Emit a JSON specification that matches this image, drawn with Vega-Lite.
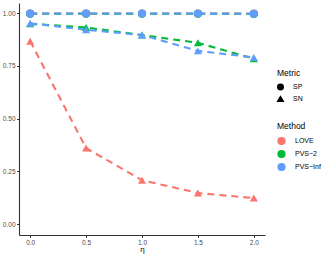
{
  "$schema": "https://vega.github.io/schema/vega-lite/v6.json",
  "width": 246,
  "height": 232,
  "autosize": {"type": "none"},
  "padding": {"left": 19, "top": 3, "right": 67, "bottom": 23},
  "background": "white",
  "config": {
    "view": {"stroke": null},
    "font": "Liberation Sans",
    "axis": {"grid": false, "domainColor": "#333333", "domainWidth": 1.1, "tickColor": "#333333", "tickSize": 2.5, "labelColor": "#4D4D4D", "labelFontSize": 6.5, "labelPadding": 1.5, "titleFontWeight": "normal", "titleFontSize": 8, "titleColor": "black"},
    "legend": {"titleFontWeight": "normal", "titleFontSize": 8.5, "titleColor": "black", "titlePadding": 6, "labelFontSize": 7, "labelColor": "black", "labelOffset": 9, "symbolSize": 40, "rowPadding": 2}
  },
  "data": {
    "values": [
      {"eta": 0.0, "Method": "LOVE", "Metric": "SP", "value": 0.998},
      {"eta": 0.5, "Method": "LOVE", "Metric": "SP", "value": 0.998},
      {"eta": 1.0, "Method": "LOVE", "Metric": "SP", "value": 0.998},
      {"eta": 1.5, "Method": "LOVE", "Metric": "SP", "value": 0.998},
      {"eta": 2.0, "Method": "LOVE", "Metric": "SP", "value": 0.998},
      {"eta": 0.0, "Method": "PVS\u22122", "Metric": "SP", "value": 0.997},
      {"eta": 0.5, "Method": "PVS\u22122", "Metric": "SP", "value": 0.997},
      {"eta": 1.0, "Method": "PVS\u22122", "Metric": "SP", "value": 0.997},
      {"eta": 1.5, "Method": "PVS\u22122", "Metric": "SP", "value": 0.997},
      {"eta": 2.0, "Method": "PVS\u22122", "Metric": "SP", "value": 0.996},
      {"eta": 0.0, "Method": "PVS\u2212Inf", "Metric": "SP", "value": 0.998},
      {"eta": 0.5, "Method": "PVS\u2212Inf", "Metric": "SP", "value": 0.998},
      {"eta": 1.0, "Method": "PVS\u2212Inf", "Metric": "SP", "value": 0.998},
      {"eta": 1.5, "Method": "PVS\u2212Inf", "Metric": "SP", "value": 0.998},
      {"eta": 2.0, "Method": "PVS\u2212Inf", "Metric": "SP", "value": 0.997},
      {"eta": 0.0, "Method": "LOVE", "Metric": "SN", "value": 0.867},
      {"eta": 0.5, "Method": "LOVE", "Metric": "SN", "value": 0.36},
      {"eta": 1.0, "Method": "LOVE", "Metric": "SN", "value": 0.208},
      {"eta": 1.5, "Method": "LOVE", "Metric": "SN", "value": 0.147},
      {"eta": 2.0, "Method": "LOVE", "Metric": "SN", "value": 0.123},
      {"eta": 0.0, "Method": "PVS\u22122", "Metric": "SN", "value": 0.949},
      {"eta": 0.5, "Method": "PVS\u22122", "Metric": "SN", "value": 0.932},
      {"eta": 1.0, "Method": "PVS\u22122", "Metric": "SN", "value": 0.896},
      {"eta": 1.5, "Method": "PVS\u22122", "Metric": "SN", "value": 0.859},
      {"eta": 2.0, "Method": "PVS\u22122", "Metric": "SN", "value": 0.784},
      {"eta": 0.0, "Method": "PVS\u2212Inf", "Metric": "SN", "value": 0.952},
      {"eta": 0.5, "Method": "PVS\u2212Inf", "Metric": "SN", "value": 0.921},
      {"eta": 1.0, "Method": "PVS\u2212Inf", "Metric": "SN", "value": 0.896},
      {"eta": 1.5, "Method": "PVS\u2212Inf", "Metric": "SN", "value": 0.821},
      {"eta": 2.0, "Method": "PVS\u2212Inf", "Metric": "SN", "value": 0.79}
    ]
  },
  "encoding": {
    "x": {"field": "eta", "type": "quantitative", "title": "\u03b7", "scale": {"domain": [-0.1, 2.1], "nice": false, "zero": false}, "axis": {"values": [0, 0.5, 1, 1.5, 2], "format": ".1f", "titlePadding": 0}},
    "y": {"field": "value", "type": "quantitative", "title": null, "scale": {"domain": [-0.052, 1.048], "nice": false}, "axis": {"values": [0, 0.25, 0.5, 0.75, 1], "format": ".2f"}},
    "color": {"field": "Method", "type": "nominal", "scale": {"domain": ["LOVE", "PVS\u22122", "PVS\u2212Inf"], "range": ["#F8766D", "#00BA38", "#619CFF"]}, "legend": {"orient": "none", "legendX": 258, "legendY": 119, "symbolType": "circle", "symbolOpacity": 1, "symbolSize": 45, "rowPadding": 0}}
  },
  "layer": [
    {
      "mark": {"type": "line", "strokeDash": [7, 5], "strokeWidth": 2.1},
      "encoding": {"detail": {"field": "Metric"}}
    },
    {
      "mark": {"type": "point", "filled": true, "opacity": 1, "size": 65},
      "encoding": {
        "shape": {"field": "Metric", "type": "nominal", "scale": {"domain": ["SP", "SN"], "range": ["circle", "triangle-up"]}, "legend": {"orient": "none", "legendX": 258, "legendY": 66, "symbolFillColor": "black", "symbolStrokeColor": "black", "symbolSize": 30, "rowPadding": 0}}
      }
    }
  ]
}
